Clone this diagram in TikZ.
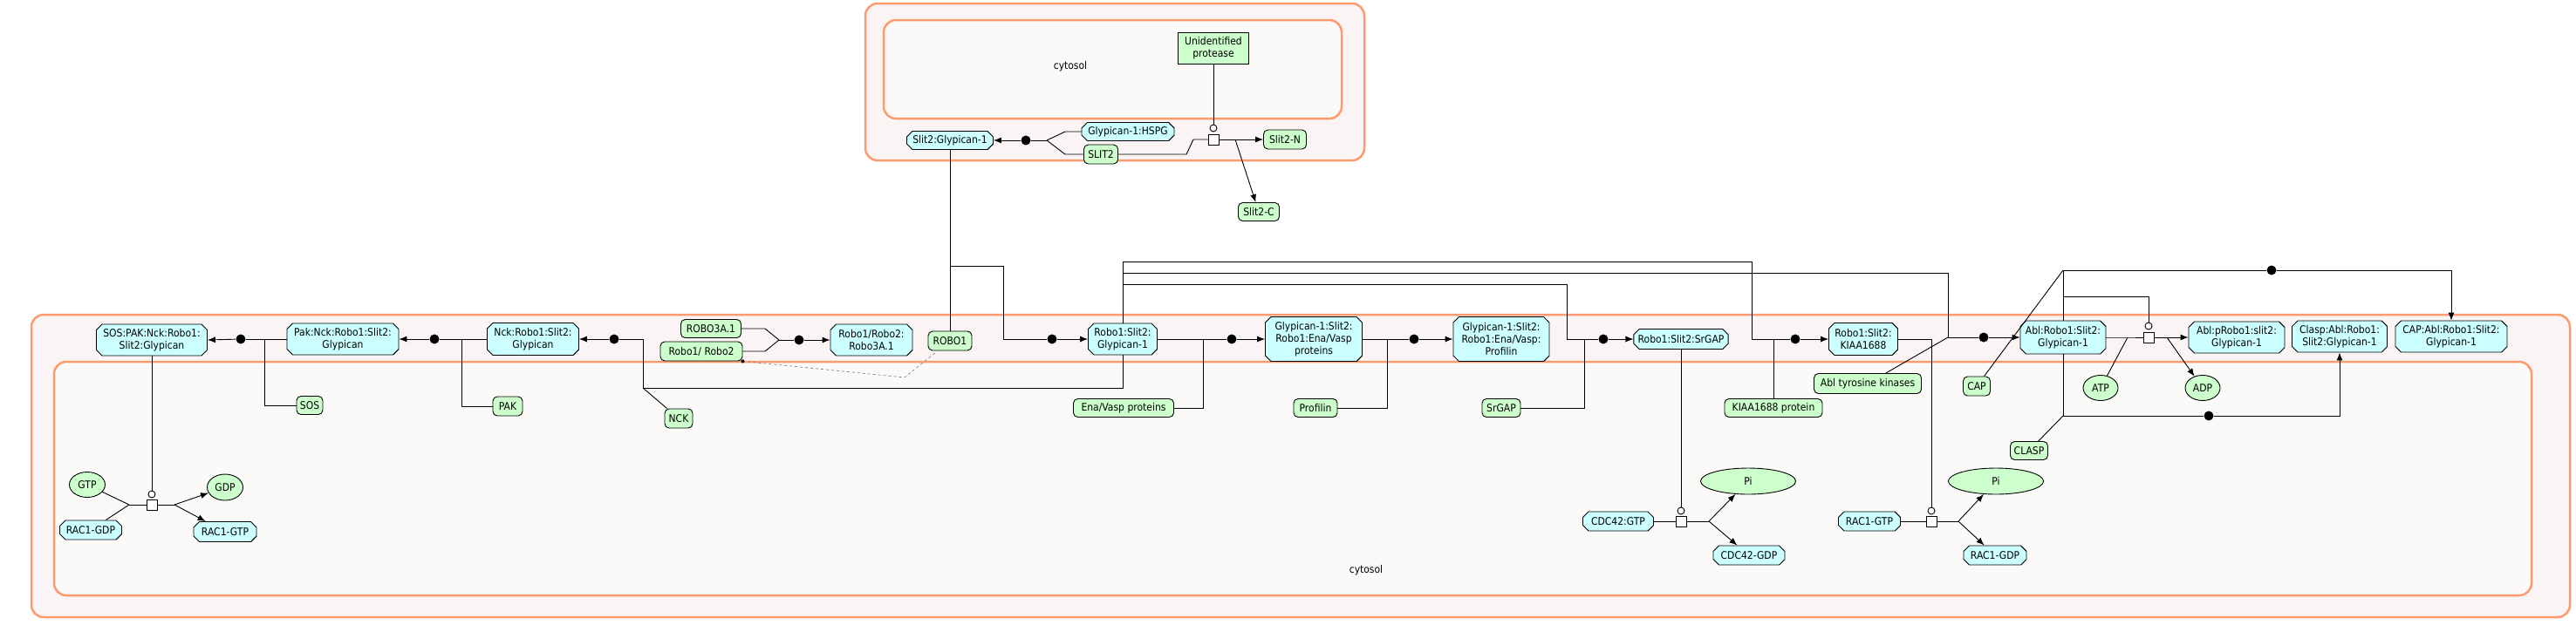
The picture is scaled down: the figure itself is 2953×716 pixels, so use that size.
\documentclass[tikz,border=0pt]{standalone}
\usepackage{fontspec}
\setmainfont{DejaVu Sans}[FakeStretch=0.9]
\usetikzlibrary{arrows.meta, shapes.misc, shapes.geometric, positioning}
\definecolor{cplxfill}{RGB}{204,255,255}
\definecolor{protfill}{RGB}{204,255,204}
\definecolor{compline}{RGB}{252,155,112}
\definecolor{compout}{RGB}{250,244,244}
\definecolor{compin}{RGB}{252,250,249}

\begin{document}
\begin{tikzpicture}[x=1pt, y=-1pt, >={Latex[length=9pt, width=7pt]}, line width=0.9pt,
    every node/.style={font=\fontsize{12}{14}\selectfont},
    dims/.style 2 args={minimum width=#1pt, minimum height=#2pt},
    border/.style={draw=compline, line width=2.5pt, rounded corners=14pt},
    link/.style={draw=gray, dashed, line width=0.7pt}]
    % Define styles for complexes, proteins, small molecules and reaction marks
    \tikzstyle{complex} = [draw, fill=cplxfill, chamfered rectangle, chamfered rectangle xsep=3.2pt, chamfered rectangle ysep=3.2pt, inner xsep=1.5pt, inner ysep=1.5pt, align=center]
    \tikzstyle{protein} = [draw, fill=protfill, rectangle, rounded corners=5pt, inner sep=1pt, align=center]
    \tikzstyle{smallmol} = [draw, fill=protfill, ellipse, inner sep=0pt]
    \tikzstyle{joindot} = [fill, circle, inner sep=0pt, minimum size=11pt]
    \tikzstyle{procbox} = [draw, fill=white, rectangle, inner sep=0pt, minimum size=12pt]
    \tikzstyle{catring} = [draw, fill=white, circle, inner sep=0pt, minimum size=8pt]

    \useasboundingbox (0,0) rectangle (2953,716);

    % Compartments
    \draw [border, fill=compout] (992,4) rectangle (1564,184);
    \draw [border, fill=compin] (1013,23) rectangle (1538,136);
    \draw [border, fill=compout] (36,361) rectangle (2946,708);
    \draw [border, fill=compin] (62,415) rectangle (2902,683);
    \node (cytosolA) at (1227,76) {cytosol};
    \node (cytosolB) at (1566,654) {cytosol};

    % Nodes placement: top compartment
    \node [complex, dims={99}{21}] (sg1) at (1089,161) {Slit2:Glypican-1};
    \node [complex, dims={106}{20}] (hspg) at (1293,151) {Glypican-1:HSPG};
    \node [protein, dims={39}{22}] (slit2) at (1262,177) {SLIT2};
    \node [draw, fill=protfill, align=center, dims={81}{36}, inner sep=1pt] (protease) at (1391,55) {Unidentified\\protease};
    \node [procbox] (sgproc) at (1391,160) {};
    \node [catring, above of=sgproc, node distance=13pt] (sgcat) {};
    \node [protein, dims={49}{22}] (slit2n) at (1473,160) {Slit2-N};
    \node [protein, dims={47}{21}] (slit2c) at (1443,243) {Slit2-C};
    \node [joindot] (dA) at (1176,161) {};

    % Nodes placement: main row
    \node [complex, dims={127}{36}] (sospak) at (174,390) {SOS:PAK:Nck:Robo1:\\Slit2:Glypican};
    \node [complex, dims={128}{36}] (pak5) at (393,389) {Pak:Nck:Robo1:Slit2:\\Glypican};
    \node [complex, dims={105}{37}] (nck4) at (611,389) {Nck:Robo1:Slit2:\\Glypican};
    \node [protein, dims={69}{21}] (robo3a) at (815,377) {ROBO3A.1};
    \node [protein, dims={94}{22}] (robo12) at (804,403) {Robo1/ Robo2};
    \node [complex, dims={94}{36}] (robo3cx) at (999,390) {Robo1/Robo2:\\Robo3A.1};
    \node [protein, dims={50}{22}] (robo1) at (1089,391) {ROBO1};
    \node [complex, dims={79}{36}] (rsg) at (1287,389) {Robo1:Slit2:\\Glypican-1};
    \node [complex, dims={111}{51}] (ena) at (1506,389) {Glypican-1:Slit2:\\Robo1:Ena/Vasp\\proteins};
    \node [complex, dims={110}{51}] (prof) at (1721,389) {Glypican-1:Slit2:\\Robo1:Ena/Vasp:\\Profilin};
    \node [complex, dims={103}{23}] (srgapcx) at (1927,389) {Robo1:Slit2:SrGAP};
    \node [complex, dims={79}{37}] (kiaacx) at (2136,389) {Robo1:Slit2:\\KIAA1688};
    \node [complex, dims={98}{38}] (ablcx) at (2365,387) {Abl:Robo1:Slit2:\\Glypican-1};
    \node [procbox] (procD) at (2463,387) {};
    \node [catring, above of=procD, node distance=13pt] (catD) {};
    \node [complex, dims={110}{36}] (pablcx) at (2564,387) {Abl:pRobo1:slit2:\\Glypican-1};
    \node [complex, dims={109}{36}] (claspcx) at (2682,386) {Clasp:Abl:Robo1:\\Slit2:Glypican-1};
    \node [complex, dims={128}{36}] (capcx) at (2810,386) {CAP:Abl:Robo1:Slit2:\\Glypican-1};

    % Nodes placement: partners below the row
    \node [protein, dims={30}{21}] (sos) at (355,465) {SOS};
    \node [protein, dims={34}{22}] (pak) at (582,466) {PAK};
    \node [protein, dims={32}{22}] (nck) at (778,480) {NCK};
    \node [protein, dims={115}{21}] (enap) at (1288,468) {Ena/Vasp proteins};
    \node [protein, dims={50}{21}] (profp) at (1508,468) {Profilin};
    \node [protein, dims={44}{21}] (srgap) at (1721,468) {SrGAP};
    \node [protein, dims={112}{21}] (kiaap) at (2033,468) {KIAA1688 protein};
    \node [protein, dims={123}{23}] (ablk) at (2141,440) {Abl tyrosine kinases};
    \node [protein, dims={31}{22}] (capp) at (2266,443) {CAP};
    \node [smallmol, dims={40}{29}] (atp) at (2408,445) {ATP};
    \node [smallmol, dims={40}{29}] (adp) at (2525,445) {ADP};
    \node [protein, dims={43}{21}] (claspp) at (2326,517) {CLASP};

    % Nodes placement: GTPase reactions
    \node [smallmol, dims={41}{29}] (gtp) at (100,556) {GTP};
    \node [complex, dims={71}{22}] (racgdpA) at (104,608) {RAC1-GDP};
    \node [procbox] (procA) at (174,579) {};
    \node [catring, above of=procA, node distance=12pt] (catA) {};
    \node [smallmol, dims={41}{30}] (gdp) at (258,559) {GDP};
    \node [complex, dims={72}{23}] (racgtpA) at (258,610) {RAC1-GTP};

    \node [complex, dims={81}{22}] (cdcgtp) at (1855,598) {CDC42:GTP};
    \node [procbox] (procB) at (1927,598) {};
    \node [catring, above of=procB, node distance=12pt] (catB) {};
    \node [smallmol, dims={109}{30}] (piA) at (2004,552) {Pi};
    \node [complex, dims={82}{22}] (cdcgdp) at (2005,637) {CDC42-GDP};

    \node [complex, dims={71}{22}] (racgtpB) at (2143,598) {RAC1-GTP};
    \node [procbox] (procC) at (2214,598) {};
    \node [catring, above of=procC, node distance=12pt] (catC) {};
    \node [smallmol, dims={109}{30}] (piB) at (2288,552) {Pi};
    \node [complex, dims={72}{22}] (racgdpB) at (2287,637) {RAC1-GDP};

    % Reaction dots
    \node [joindot] (dS) at (276,389) {};
    \node [joindot] (dPk) at (498,389) {};
    \node [joindot] (dN) at (704,389) {};
    \node [joindot] (dQ) at (916,390) {};
    \node [joindot] (dR) at (1206,389) {};
    \node [joindot] (dE) at (1412,389) {};
    \node [joindot] (dF) at (1621,389) {};
    \node [joindot] (dM) at (1838,389) {};
    \node [joindot] (dK) at (2058,389) {};
    \node [joindot] (dL) at (2274,387) {};
    \node [joindot] (dC) at (2604,310) {};
    \node [joindot] (dCl) at (2532,477) {};

    % Branch points
    \coordinate (jA) at (1200,161);
    \coordinate (jA1) at (1221,151);
    \coordinate (jA2) at (1221,177);
    \coordinate (jS1) at (1360,177);
    \coordinate (jS2) at (1368,160);
    \coordinate (jB) at (1416,160);
    \coordinate (jSo) at (303,389);
    \coordinate (jPk) at (529,389);
    \coordinate (jN) at (737,445);
    \coordinate (jN2) at (737,389);
    \coordinate (jQ1) at (877,377);
    \coordinate (jQ2) at (877,403);
    \coordinate (jQ) at (893,390);
    \coordinate (jD) at (1037,433);
    \coordinate (jR0) at (1089,305);
    \coordinate (jR2) at (1150,389);
    \coordinate (jE) at (1379,389);
    \coordinate (jF) at (1590,389);
    \coordinate (jT1) at (1287,300);
    \coordinate (jT2) at (1287,313);
    \coordinate (jT3) at (1287,326);
    \coordinate (jM1) at (1796,389);
    \coordinate (jM) at (1816,389);
    \coordinate (jK1) at (2008,389);
    \coordinate (jK) at (2033,389);
    \coordinate (jL1) at (2233,387);
    \coordinate (jCp) at (2365,310);
    \coordinate (jPh) at (2365,340);
    \coordinate (jAi) at (2439,387);
    \coordinate (jAo) at (2484,387);
    \coordinate (jCl) at (2365,477);
    \coordinate (jGin) at (148,579);
    \coordinate (jGout) at (200,579);
    \coordinate (jCo) at (1959,598);
    \coordinate (jRo) at (2245,598);

    % Draw edges: top compartment
    \draw (hspg.west) -- (jA1) -- (jA);
    \draw (slit2.west) -- (jA2) -- (jA);
    \draw (jA) -- (dA);
    \draw[->] (dA) -- (sg1.east);
    \draw (slit2.east) -- (jS1) -- (jS2) -- (sgproc.west);
    \draw (protease) -- (sgcat);
    \draw[->] (sgproc.east) -- (slit2n.west);
    \draw[->] (jB) -- (slit2c);
    \draw (sg1.south) -- (robo1.north);

    % Draw edges: main row
    \draw (pak5.west) -- (dS);
    \draw[->] (dS) -- (sospak.east);
    \draw (jSo) |- (sos.west);
    \draw (nck4.west) -- (dPk);
    \draw[->] (dPk) -- (pak5.east);
    \draw (jPk) |- (pak.west);
    \draw (rsg.south) |- (jN) -- (jN2) -- (dN);
    \draw[->] (dN) -- (nck4.east);
    \draw (nck) -- (jN);
    \draw (robo3a.east) -- (jQ1) -- (jQ);
    \draw (robo12.east) -- (jQ2) -- (jQ);
    \draw (jQ) -- (dQ);
    \draw[->] (dQ) -- (robo3cx.west);
    \draw[link] (robo12.south east) -- (jD) -- (robo1);
    \fill (robo12.south east) circle (2pt);
    \draw (jR0) -| (jR2) -- (dR);
    \draw[->] (dR) -- (rsg.west);
    \draw (rsg.east) -- (dE);
    \draw[->] (dE) -- (ena.west);
    \draw (jE) |- (enap.east);
    \draw (ena.east) -- (dF);
    \draw[->] (dF) -- (prof.west);
    \draw (jF) |- (profp.east);

    % Long links from Robo1:Slit2:Glypican-1
    \draw (rsg.north) -- (jT1);
    \draw (jT3) -| (jM1) -- (dM);
    \draw[->] (dM) -- (srgapcx.west);
    \draw (jM) |- (srgap.east);
    \draw (jT1) -| (jK1) -- (dK);
    \draw[->] (dK) -- (kiaacx.west);
    \draw (jK) -- (kiaap.north);
    \draw (jT2) -| (jL1) -- (dL);
    \draw[->] (dL) -- (ablcx.west);
    \draw (ablk) -- (jL1);

    % Abl branch
    \draw (capp) -- (jCp);
    \draw (ablcx.north) -- (jCp) -- (dC);
    \draw[->] (dC) -| (capcx.north);
    \draw (jPh) -| (catD.north);
    \draw (ablcx.east) -- (jAi) -- (procD.west);
    \draw (atp) -- (jAi);
    \draw (procD.east) -- (jAo);
    \draw[->] (jAo) -- (pablcx.west);
    \draw[->] (jAo) -- (adp);
    \draw (ablcx.south) -- (jCl) -- (dCl);
    \draw (claspp) -- (jCl);
    \draw[->] (dCl) -| (claspcx.south);

    % GTPase reactions
    \draw (sospak.south) -- (catA.north);
    \draw (gtp) -- (jGin);
    \draw (racgdpA) -- (jGin);
    \draw (jGin) -- (procA.west);
    \draw (procA.east) -- (jGout);
    \draw[->] (jGout) -- (gdp);
    \draw[->] (jGout) -- (racgtpA);
    \draw (srgapcx.south) -- (catB.north);
    \draw (cdcgtp.east) -- (procB.west);
    \draw (procB.east) -- (jCo);
    \draw[->] (jCo) -- (piA);
    \draw[->] (jCo) -- (cdcgdp);
    \draw (kiaacx.east) -| (catC.north);
    \draw (racgtpB.east) -- (procC.west);
    \draw (procC.east) -- (jRo);
    \draw[->] (jRo) -- (piB);
    \draw[->] (jRo) -- (racgdpB);
\end{tikzpicture}
\end{document}
